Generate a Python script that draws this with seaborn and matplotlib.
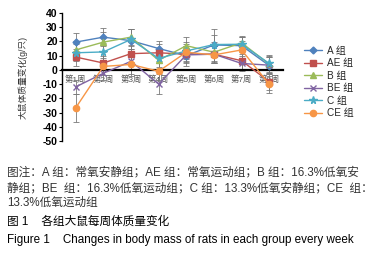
import numpy as np
import pandas as pd
import matplotlib
matplotlib.use("Agg")
import matplotlib.pyplot as plt
import seaborn as sns

weeks = ["第1周", "第2周", "第3周", "第4周", "第5周", "第6周", "第7周", "第8周"]
groups = ["A 组", "AE 组", "B 组", "BE 组", "C 组", "CE 组"]

a_vals = [19.5, 23, 20.5, 15, 10, 17.5, 17, 3]
ae_vals = [9, 4.8, 11.4, 12, 11, 11, 6.4, -8.3]
b_vals = [14, 19.5, 23, 6.7, 17, 12.4, 19, 4]
be_vals = [-12, -2.4, 6, -10, 10.5, 11, 4.5, 3.3]
c_vals = [12, 12.6, 21.4, 8, 13.3, 17.8, 18, 4.5]
ce_vals = [-26.7, 2.4, 3.8, -1, 12.4, 10.5, 14, -10.2]

a_err = [6.5, 6.5, 8, 5, 7, 11, 6, 6]
ae_err = [6, 5, 6, 6, 6, 6, 6, 6]
b_err = [6, 7, 6, 6, 6, 7, 5, 6]
be_err = [5, 5, 9, 7, 5, 6, 5, 6]
c_err = [6, 6, 7, 6, 6, 7, 5, 6]
ce_err = [10, 6, 8, 6, 6, 6, 6, 6]

vals = [a_vals, ae_vals, b_vals, be_vals, c_vals, ce_vals]
errs = [a_err, ae_err, b_err, be_err, c_err, ce_err]
colors = ["#4F81BD", "#C0504D", "#9BBB59", "#8064A2", "#4BACC6", "#F79646"]
markers = ["D", "s", "^", "x", "*", "o"]
msizes = [3.5, 4.5, 4.5, 4.5, 5.5, 4.5]

rows = []
for g, v in zip(groups, vals):
    for i, y in enumerate(v):
        rows.append({"week": i, "group": g, "value": y})
df = pd.DataFrame(rows)

sns.set_style("white")
plt.rcParams["font.family"] = ["Liberation Sans", "Noto Sans CJK SC", "DejaVu Sans"]
plt.rcParams["axes.unicode_minus"] = False

fig = plt.figure(figsize=(3.82, 2.54), dpi=100)
ax = fig.add_axes([0.162, 0.445, 0.579, 0.504])

# error bars first so lines sit on top
for k, g in enumerate(groups):
    ax.errorbar(range(len(weeks)), vals[k], yerr=errs[k], fmt="none",
                ecolor="#7a7a7a", elinewidth=0.6, capsize=2, capthick=0.6, zorder=1)

for k, g in enumerate(groups):
    sns.lineplot(data=df[df["group"] == g], x="week", y="value", color=colors[k],
                 marker=markers[k], markersize=msizes[k], markeredgecolor=colors[k],
                 markeredgewidth=1.0, linewidth=1.0, sort=False, ax=ax, zorder=3)

# move the x axis to y=0 first, it resets the ticks
ax.spines["bottom"].set_position(("data", 0))
ax.spines["bottom"].set_linewidth(1.6)
ax.spines["bottom"].set_color("black")
ax.spines["left"].set_linewidth(1.0)
ax.spines["left"].set_color("black")
ax.spines["top"].set_visible(False)
ax.spines["right"].set_visible(False)

ax.set_xlim(-0.5, 7.5)
ax.set_ylim(-50, 40)
ax.set_yticks(range(-50, 41, 10))
ax.set_xticks(range(len(weeks)))
ax.set_xticklabels(weeks)
ax.tick_params(axis="x", length=0, pad=4, labelsize=6.0, labelcolor="#555555")
ax.tick_params(axis="y", length=2, width=0.8, labelsize=7.5, pad=1, colors="black", direction="out", left=True)
for t in ax.get_yticklabels():
    t.set_fontweight("bold")
ax.set_xlabel("")
ax.set_ylabel("大鼠体质量变化(g/只)", fontsize=6.3, color="#333333", labelpad=11)

handles = [plt.Line2D([0], [0], color=c, marker=m, markersize=ms, linewidth=1.0,
                      markeredgecolor=c, markeredgewidth=1.0)
           for c, m, ms in zip(colors, markers, msizes)]
fig.legend(handles, groups, loc="upper left", bbox_to_anchor=(0.785, 0.835),
           frameon=False, fontsize=7.2, handlelength=1.8, handletextpad=0.5,
           labelspacing=0.25, borderaxespad=0)

# caption under the chart
cap = [
    ("图注：A 组：常氧安静组；AE 组：常氧运动组；B 组：16.3%低氧安", 172, "#333333"),
    ("静组；BE  组：16.3%低氧运动组；C 组：13.3%低氧安静组；CE  组：", 188, "#333333"),
    ("13.3%低氧运动组", 203, "#333333"),
    ("图 1    各组大鼠每周体质量变化", 222, "black"),
    ("Figure 1    Changes in body mass of rats in each group every week", 240, "black"),
]
for txt, ypx, col in cap:
    fig.text(7 / 382, 1 - ypx / 254, txt, fontsize=8.4, color=col, va="center", ha="left")

fig.savefig("out.png", dpi=100)
